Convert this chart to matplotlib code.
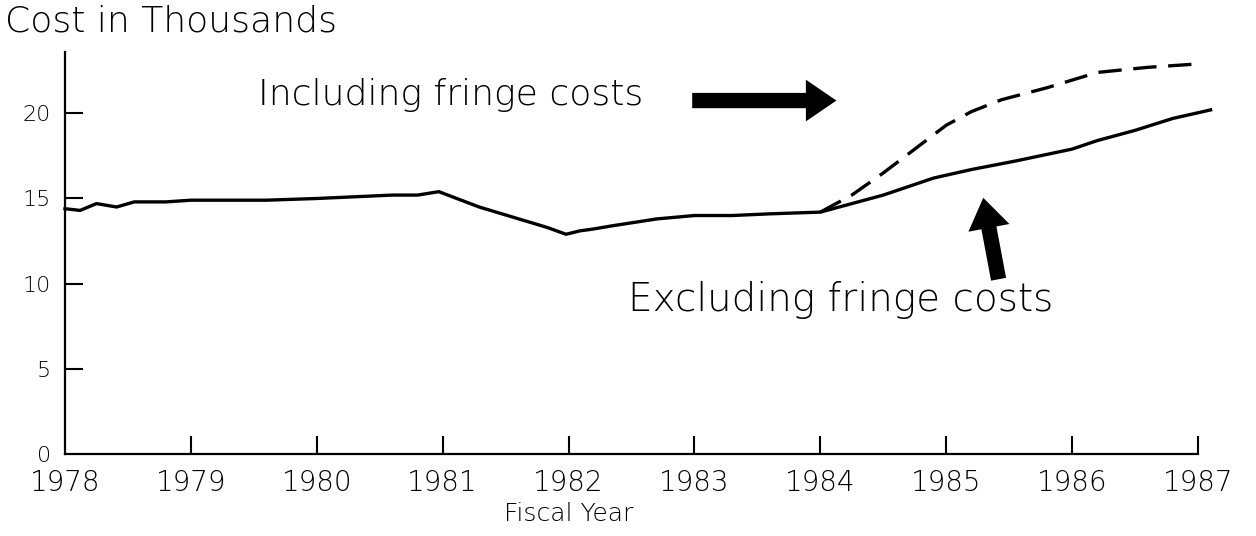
import matplotlib
matplotlib.use('Agg')
import matplotlib.pyplot as plt
from matplotlib.patches import FancyArrowPatch

# data (cost in thousands)
years = [1978, 1979, 1980, 1981, 1982, 1983, 1984, 1985, 1986, 1987]
year_labels = ['1978', '1979', '1980', '1981', '1982', '1983', '1984', '1985', '1986', '1987']
y_ticks = [0, 5, 10, 15, 20]

excl_x = [1978.0, 1978.12, 1978.25, 1978.41, 1978.55, 1978.8, 1979.0, 1979.3, 1979.6,
          1980.0, 1980.3, 1980.6, 1980.8, 1980.97, 1981.29, 1981.56, 1981.83, 1981.98,
          1982.09, 1982.19, 1982.35, 1982.7, 1983.0, 1983.3, 1983.6, 1984.0, 1984.5,
          1984.9, 1985.2, 1985.55, 1986.0, 1986.2, 1986.5, 1986.8, 1987.1]
excl_y = [14.4, 14.3, 14.7, 14.5, 14.8, 14.8, 14.9, 14.9, 14.9,
          15.0, 15.1, 15.2, 15.2, 15.4, 14.5, 13.9, 13.3, 12.9,
          13.1, 13.2, 13.4, 13.8, 14.0, 14.0, 14.1, 14.2, 15.2,
          16.2, 16.7, 17.2, 17.9, 18.4, 19.0, 19.7, 20.2]

incl_x = [1984.0, 1984.25, 1984.5, 1984.75, 1985.0, 1985.2, 1985.44, 1985.8,
          1986.2, 1986.6, 1987.0]
incl_y = [14.2, 15.2, 16.5, 17.9, 19.3, 20.1, 20.8, 21.5,
          22.4, 22.7, 22.9]

fig = plt.figure(figsize=(12.56, 5.36), dpi=100)
ax = fig.add_axes([65 / 1256, 82 / 536, (1198 - 65) / 1256, (454 - 52) / 536])

ax.plot(excl_x, excl_y, color='black', lw=2.4, clip_on=False)
ax.plot(incl_x, incl_y, color='black', lw=2.4, dashes=(7, 3.5), clip_on=False)

ax.set_xlim(1978, 1987)
ax.set_ylim(0, 23.6)
for s in ['top', 'right']:
    ax.spines[s].set_visible(False)
for s in ['left', 'bottom']:
    ax.spines[s].set_linewidth(1.6)

ax.set_xticks(years)
ax.set_xticklabels(year_labels)
ax.set_yticks(y_ticks)
ax.set_yticklabels([str(v) for v in y_ticks])
ax.tick_params(axis='both', direction='in', length=13, width=1.5)
ax.tick_params(axis='x', labelsize=20, pad=11)
ax.tick_params(axis='y', labelsize=16, pad=10)
# no tick marks at the origin, only the labels
ax.xaxis.get_major_ticks()[0].tick1line.set_visible(False)
ax.yaxis.get_major_ticks()[0].tick1line.set_visible(False)
for lbl in ax.get_xticklabels() + ax.get_yticklabels():
    lbl.set_fontweight('light')

ax.text(1982.0, -3.55, 'Fiscal Year', ha='center', va='center', fontsize=18,
        fontweight='light', clip_on=False)
fig.text(5 / 1256, 1 - 22 / 536, 'Cost in Thousands', ha='left', va='center',
         fontsize=26, fontweight='light')

ax.text(1979.53, 20.47, 'Including fringe costs', ha='left', va='baseline',
        fontsize=26, fontweight='light')
ax.text(1982.47, 8.4, 'Excluding fringe costs', ha='left', va='baseline',
        fontsize=28, fontweight='light')

style = 'simple,head_length=1.1,head_width=1.5,tail_width=0.55'
ax.add_patch(FancyArrowPatch((1982.96, 20.75), (1984.15, 20.75), arrowstyle=style,
                             mutation_scale=20, color='black', lw=0))
ax.add_patch(FancyArrowPatch((1985.42, 10.1), (1985.29, 15.2), arrowstyle=style,
                             mutation_scale=20, color='black', lw=0))

fig.savefig('out.png', dpi=100)
